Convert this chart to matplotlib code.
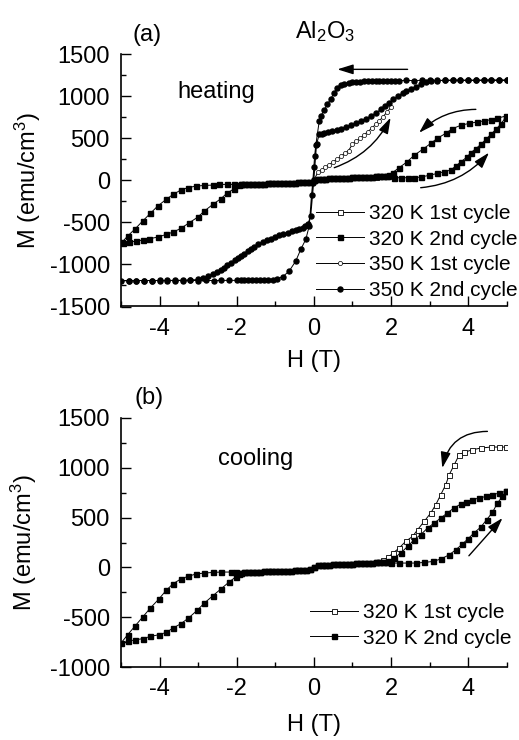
import matplotlib
matplotlib.use("Agg")
import matplotlib.pyplot as plt
from matplotlib.ticker import MultipleLocator

plt.rcParams['font.family'] = ['Liberation Sans', 'DejaVu Sans']
plt.rcParams['mathtext.fontset'] = 'custom'
plt.rcParams['mathtext.rm'] = 'Liberation Sans'
plt.rcParams['mathtext.it'] = 'Liberation Sans'
plt.rcParams['axes.unicode_minus'] = False

# ---------------- (a) heating ----------------
# 320 K 2nd cycle
h320_dn_r = [4.97, 4.76, 4.59, 4.41, 4.24, 4.02, 3.81, 3.59, 3.42, 3.20, 3.03, 2.82, 2.60, 2.41, 2.21, 2.04, 1.95]
m320_dn_r = [765, 740, 722, 708, 695, 678, 655, 615, 560, 500, 440, 369, 298, 218, 151, 92, 62]
h320_mid = [1.9, 1.8, 1.7, 1.6, 1.5, 1.4, 1.3, 1.2, 1.1, 1.0, 0.9, 0.8, 0.7, 0.6, 0.5, 0.4, 0.3, 0.2, 0.1, 0.0,
            -0.1, -0.2, -0.3, -0.4, -0.5, -0.6, -0.7, -0.8, -0.9, -1.0, -1.1, -1.2, -1.3, -1.4, -1.5, -1.6, -1.7, -1.8, -1.9]
m320_mid = [55, 52, 50, 48, 46, 44, 42, 40, 38, 36, 34, 32, 30, 28, 26, 24, 22, 20, 16, 0,
            -16, -20, -22, -24, -26, -28, -30, -32, -33, -34, -35, -36, -37, -38, -39, -40, -42, -44, -45]
h320_dn_l = [-2.06, -2.24, -2.45, -2.62, -2.84, -3.06, -3.27, -3.45, -3.65, -3.83, -4.05, -4.24, -4.44, -4.63, -4.83, -4.97]
m320_dn_l = [-48, -48, -48, -56, -60, -68, -87, -115, -167, -226, -306, -393, -484, -575, -663, -734]
h320_up_l = [-4.96, -4.78, -4.61, -4.44, -4.27, -4.05, -3.83, -3.65, -3.45, -3.23, -3.01, -2.84, -2.62, -2.41, -2.24, -2.06, -1.95]
m320_up_l = [-750, -734, -722, -710, -694, -675, -643, -615, -571, -504, -437, -365, -286, -218, -147, -99, -60]
h320_up_r = [2.08, 2.25, 2.43, 2.60, 2.77, 2.99, 3.20, 3.38, 3.55, 3.68, 3.81, 3.98, 4.07, 4.20, 4.33, 4.46, 4.59, 4.72, 4.84, 4.97]
m320_up_r = [32, 32, 32, 32, 40, 60, 83, 103, 123, 171, 218, 282, 330, 377, 429, 488, 548, 607, 667, 746]

# 320 K 1st cycle
h320_1st_a = [0.0, 0.2, 0.4, 0.6, 0.8, 1.0, 1.2, 1.4, 1.6, 1.8, 2.0]
m320_1st_a = [0, 20, 25, 28, 32, 35, 38, 42, 46, 50, 55]

# 350 K 1st cycle
h350_1st = [0.0, 0.1, 0.2, 0.3, 0.4, 0.5, 0.6, 0.7, 0.8, 0.9, 1.0, 1.1, 1.2, 1.3, 1.4, 1.5, 1.6, 1.7, 1.8, 1.9, 2.0]
m350_1st = [0, 95, 125, 155, 185, 220, 250, 285, 320, 355, 430, 465, 500, 540, 580, 620, 665, 710, 760, 815, 870]

# 350 K 2nd cycle, field going down
h350_dn = [5.0, 4.8, 4.6, 4.4, 4.2, 4.0, 3.8, 3.6, 3.4, 3.2, 3.0, 2.8, 2.6, 2.4, 2.2,
           2.1, 2.0, 1.9, 1.8, 1.7, 1.6, 1.5, 1.4, 1.3, 1.2, 1.1, 1.0, 0.9,
           0.79, 0.7, 0.61, 0.53, 0.44, 0.35, 0.27, 0.18, 0.14,
           0.05, 0.02, 0.0, -0.03, -0.06,
           -0.12, -0.21, -0.34, -0.47, -0.64, -0.81, -0.95, -1.07,
           -1.2, -1.3, -1.4, -1.5, -1.6, -1.7, -1.8, -1.9, -2.0,
           -2.2, -2.4, -2.6, -2.8, -3.0, -3.2, -3.4, -3.6, -3.8, -4.0, -4.2, -4.4, -4.6, -4.8, -5.0]
m350_dn = [1192, 1192, 1191, 1192, 1190, 1191, 1190, 1191, 1190, 1190, 1189, 1190, 1188, 1189, 1188,
           1188, 1187, 1187, 1186, 1185, 1184, 1183, 1181, 1179, 1176, 1172, 1167, 1161,
           1150, 1130, 1103, 1044, 972, 905, 837, 766, 706,
           420, 290, 160, -30, -170,
           -544, -702, -821, -960, -1079, -1147, -1168, -1179,
           -1182, -1184, -1185, -1186, -1187, -1188, -1188, -1189, -1189,
           -1190, -1190, -1191, -1190, -1191, -1190, -1191, -1192, -1191, -1192, -1192, -1191, -1192, -1192, -1193]
# 350 K 2nd cycle, field going up
h350_up = [-4.8, -4.6, -4.4, -4.2, -4.0, -3.8, -3.6, -3.4, -3.2, -3.0,
           -2.88, -2.75, -2.62, -2.51, -2.41, -2.32, -2.24, -2.14, -2.04, -1.96,
           -1.89, -1.8, -1.72, -1.63, -1.55, -1.44, -1.33, -1.22, -1.11, -1.0,
           -0.9, -0.79, -0.68, -0.57, -0.47, -0.38, -0.29, -0.22, -0.16,
           -0.08, 0.0, 0.07, 0.14, 0.2, 0.27, 0.37, 0.48, 0.59, 0.7, 0.83,
           0.96, 1.09, 1.22, 1.35, 1.48, 1.61, 1.74, 1.85, 1.95, 2.06,
           2.17, 2.3, 2.4, 2.51, 2.64, 2.77, 2.9, 3.03, 3.2, 3.4,
           3.6, 3.8, 4.0, 4.2, 4.4, 4.6, 4.8, 5.0]
m350_up = [-1192, -1192, -1191, -1191, -1190, -1190, -1189, -1188, -1186, -1178,
           -1159, -1140, -1119, -1093, -1067, -1040, -1012, -980, -948, -925,
           -901, -870, -841, -815, -790, -760, -734, -712, -694, -673,
           -655, -638, -623, -606, -591, -577, -563, -545, -524,
           -420, 0, 430, 548, 554, 560, 572, 587, 600, 615, 634,
           655, 680, 706, 735, 766, 802, 845, 885, 925, 965,
           1000, 1040, 1065, 1083, 1115, 1143, 1165, 1182, 1188, 1190,
           1191, 1191, 1192, 1192, 1192, 1192, 1192, 1192]

# ---------------- (b) cooling ----------------
hb320_dn_r = [4.97, 4.80, 4.63, 4.46, 4.28, 4.11, 3.94, 3.81, 3.63, 3.46, 3.29, 3.12, 2.95, 2.77, 2.60, 2.43, 2.25, 2.08, 1.95]
mb320_dn_r = [762, 745, 728, 711, 695, 678, 655, 635, 595, 545, 495, 445, 395, 328, 278, 210, 144, 94, 62]
hb320_mid = [1.9, 1.8, 1.7, 1.6, 1.5, 1.4, 1.3, 1.2, 1.1, 1.0, 0.9, 0.8, 0.7, 0.6, 0.5, 0.4, 0.3, 0.2, 0.1, 0.0,
             -0.1, -0.2, -0.3, -0.4, -0.5, -0.6, -0.7, -0.8, -0.9, -1.0, -1.1, -1.2, -1.3, -1.4, -1.5, -1.6, -1.7, -1.8, -1.9]
mb320_mid = [58, 55, 53, 51, 49, 47, 45, 43, 41, 39, 37, 35, 33, 31, 30, 29, 28, 27, 20, 0,
             -20, -24, -26, -28, -30, -32, -33, -34, -35, -36, -38, -39, -40, -42, -44, -46, -48, -50, -52]
hb320_dn_l = [-2.03, -2.15, -2.41, -2.62, -2.84, -3.06, -3.27, -3.45, -3.65, -3.83, -4.02, -4.24, -4.44, -4.63, -4.83, -5.0]
mb320_dn_l = [-46, -46, -46, -50, -56, -66, -90, -116, -163, -230, -317, -407, -497, -584, -675, -758]
hb320_up_l = [-4.83, -4.63, -4.44, -4.24, -4.02, -3.83, -3.65, -3.45, -3.25, -3.03, -2.84, -2.62, -2.41, -2.21, -2.03, -1.95]
mb320_up_l = [-741, -724, -714, -691, -674, -651, -607, -564, -507, -431, -357, -284, -216, -150, -96, -62]
hb320_up_r = [2.0, 2.21, 2.43, 2.64, 2.86, 3.08, 3.29, 3.51, 3.68, 3.85, 4.0, 4.15, 4.33, 4.48, 4.63, 4.76, 4.89, 4.97]
mb320_up_r = [44, 44, 44, 44, 50, 60, 84, 127, 177, 234, 288, 345, 405, 478, 551, 645, 711, 762]

hb320_1st = [0.0, 0.2, 0.4, 0.6, 0.8, 1.0, 1.2, 1.4, 1.6, 1.8, 1.92, 2.04, 2.21, 2.38, 2.56, 2.69, 2.86, 3.03,
             3.16, 3.29, 3.42, 3.51, 3.64, 3.77, 3.89, 4.11, 4.33, 4.59, 4.8, 4.97]
mb320_1st = [0, 22, 26, 30, 34, 38, 42, 46, 55, 75, 100, 140, 194, 261, 311, 378, 461, 545,
             628, 729, 829, 929, 1029, 1129, 1152, 1179, 1196, 1206, 1206, 1206]


def loop(dn_r, mid, dn_l, up_l, up_r):
    return dn_r + mid + dn_l + up_l + mid[::-1] + up_r


W, H = 519, 740
fig = plt.figure(figsize=(W / 100, H / 100), dpi=100)
ax1 = fig.add_axes([121 / W, 1 - 306.5 / H, 385.7 / W, 252.2 / H])
ax2 = fig.add_axes([121 / W, 1 - 667.3 / H, 385.7 / W, 249.6 / H])

line_kw = dict(color='black', lw=0.7)
filled_sq = dict(marker='s', ms=3.6, mfc='black', mec='black')
open_sq = dict(marker='s', ms=3.6, mfc='white', mec='black', mew=0.6)
filled_ci = dict(marker='o', ms=3.6, mfc='black', mec='black')
open_ci = dict(marker='o', ms=3.0, mfc='white', mec='black', mew=0.5)

# panel (a)
ax1.plot(h320_1st_a, m320_1st_a, label='320 K 1st cycle', **line_kw, **open_sq)
ax1.plot(loop(h320_dn_r, h320_mid, h320_dn_l, h320_up_l, h320_up_r),
         loop(m320_dn_r, m320_mid, m320_dn_l, m320_up_l, m320_up_r),
         label='320 K 2nd cycle', **line_kw, **filled_sq)
ax1.plot(h350_1st, m350_1st, label='350 K 1st cycle', **line_kw, **open_ci)
ax1.plot(h350_dn + h350_up, m350_dn + m350_up, label='350 K 2nd cycle', **line_kw, **filled_ci)

# panel (b)
ax2.plot(hb320_1st, mb320_1st, label='320 K 1st cycle', **line_kw, **open_sq)
ax2.plot(loop(hb320_dn_r, hb320_mid, hb320_dn_l, hb320_up_l, hb320_up_r),
         loop(mb320_dn_r, mb320_mid, mb320_dn_l, mb320_up_l, mb320_up_r),
         label='320 K 2nd cycle', **line_kw, **filled_sq)

for ax, ylo in [(ax1, -1500), (ax2, -1000)]:
    ax.set_xlim(-5, 5)
    ax.set_ylim(ylo, 1500)
    ax.xaxis.set_major_locator(MultipleLocator(2))
    ax.xaxis.set_minor_locator(MultipleLocator(1))
    ax.yaxis.set_major_locator(MultipleLocator(500))
    ax.yaxis.set_minor_locator(MultipleLocator(250))
    ax.tick_params(which='both', direction='in', width=1.0, labelsize=17, pad=8)
    ax.tick_params(which='major', length=7)
    ax.tick_params(which='minor', length=3.5)
    ax.spines['top'].set_visible(False)
    ax.spines['right'].set_visible(False)
    ax.spines['left'].set_linewidth(1.2)
    ax.spines['bottom'].set_linewidth(1.2)
    ax.set_xlabel('H (T)', fontsize=17)
    ax.set_ylabel('M (emu/cm$^3$)', fontsize=17)
    ax.patch.set_alpha(0)

ax1.xaxis.set_label_coords(0.5, (306.5 - 350) / 252.2)
ax2.xaxis.set_label_coords(0.5, (667.3 - 714) / 249.6)
ax1.yaxis.set_label_coords((43 - 121) / 385.7, 0.5)
ax2.yaxis.set_label_coords((39 - 121) / 385.7, 0.5)

leg_kw = dict(loc='upper left', frameon=False, fontsize=15, handlelength=2.3,
              handletextpad=0.25, labelspacing=0.32, borderpad=0, borderaxespad=0)
ax1.legend(bbox_to_anchor=(316 / W, 1 - 204 / H), bbox_transform=fig.transFigure, **leg_kw)
ax2.legend(bbox_to_anchor=(310 / W, 1 - 603 / H), bbox_transform=fig.transFigure, **leg_kw)

# texts
fig.text(133 / W, 1 - 35 / H, '(a)', fontsize=17, ha='left', va='center')
fig.text(295 / W, 1 - 38 / H, 'Al$_2$O$_3$', fontsize=17, ha='left', va='baseline')
fig.text(177 / W, 1 - 98 / H, 'heating', fontsize=17, ha='left', va='baseline')
fig.text(135 / W, 1 - 398 / H, '(b)', fontsize=17, ha='left', va='center')
fig.text(218 / W, 1 - 465 / H, 'cooling', fontsize=17, ha='left', va='baseline')

# arrows
arr = dict(arrowstyle='-|>,head_length=0.8,head_width=0.25', color='black', lw=1.0,
           shrinkA=0, shrinkB=0, mutation_scale=12)
ax1.annotate('', xy=(0.61, 1321), xytext=(2.43, 1321), arrowprops=dict(**arr))
ax1.annotate('', xy=(1.99, 746), xytext=(0.53, 151),
             arrowprops=dict(**arr, connectionstyle='arc3,rad=0.2'))
ax1.annotate('', xy=(2.73, 567), xytext=(4.2, 845),
             arrowprops=dict(**arr, connectionstyle='arc3,rad=0.2'))
ax1.annotate('', xy=(4.54, 330), xytext=(2.77, -87),
             arrowprops=dict(**arr, connectionstyle='arc3,rad=0.2'))
ax2.annotate('', xy=(3.33, 996), xytext=(4.5, 1363),
             arrowprops=dict(**arr, connectionstyle='arc3,rad=0.4'))
ax2.annotate('', xy=(4.89, 495), xytext=(4.02, 117), arrowprops=dict(**arr))

fig.savefig('out.png', dpi=100)
